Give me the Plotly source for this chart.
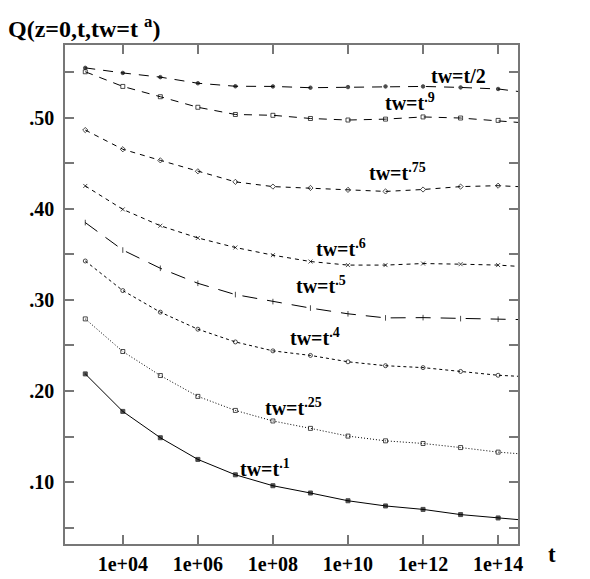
import math
import plotly.graph_objects as go

# ---------------- data ----------------
t = [1e3, 1e4, 1e5, 1e6, 1e7, 1e8, 1e9, 1e10, 1e11, 1e12, 1e13, 1e14]
t_edge = 10 ** 14.53  # curves continue to the right frame

q_half = [0.5549, 0.5493, 0.5447, 0.5380, 0.5347, 0.5345, 0.5331, 0.5338, 0.5345, 0.5345, 0.5334, 0.5317]
q_90 = [0.5506, 0.5345, 0.5232, 0.5116, 0.5037, 0.5028, 0.4993, 0.4976, 0.4986, 0.5010, 0.4998, 0.4972]
q_75 = [0.4866, 0.4655, 0.4533, 0.4413, 0.4297, 0.4245, 0.4230, 0.4209, 0.4192, 0.4213, 0.4245, 0.4255]
q_60 = [0.4252, 0.3995, 0.3815, 0.3681, 0.3576, 0.3492, 0.3422, 0.3383, 0.3383, 0.3400, 0.3393, 0.3383]
q_50 = [0.3850, 0.3548, 0.3348, 0.3183, 0.3059, 0.2982, 0.2911, 0.2848, 0.2803, 0.2806, 0.2795, 0.2789]
q_40 = [0.3428, 0.3103, 0.2866, 0.2679, 0.2539, 0.2441, 0.2391, 0.2321, 0.2278, 0.2257, 0.2215, 0.2173]
q_25 = [0.2792, 0.2434, 0.2170, 0.1941, 0.1787, 0.1671, 0.1590, 0.1505, 0.1453, 0.1424, 0.1379, 0.1329]
q_10 = [0.2188, 0.1776, 0.1487, 0.1249, 0.1080, 0.0960, 0.0880, 0.0795, 0.0738, 0.0700, 0.0643, 0.0606]

q_edge = [0.5290, 0.4950, 0.4245, 0.3369, 0.2785, 0.2162, 0.1312, 0.0588]

series_names = ["tw=t/2", "tw=t^.9", "tw=t^.75", "tw=t^.6", "tw=t^.5", "tw=t^.4", "tw=t^.25", "tw=t^.1"]
series_values = [q_half, q_90, q_75, q_60, q_50, q_40, q_25, q_10]
label_texts = ["tw=t/2", "tw=t<sup>.9</sup>", "tw=t<sup>.75</sup>", "tw=t<sup>.6</sup>",
               "tw=t<sup>.5</sup>", "tw=t<sup>.4</sup>", "tw=t<sup>.25</sup>", "tw=t<sup>.1</sup>"]

x_tick_vals = [1e4, 1e6, 1e8, 1e10, 1e12, 1e14]
x_tick_text = ["1e+04", "1e+06", "1e+08", "1e+10", "1e+12", "1e+14"]
y_tick_vals = [0.05, 0.10, 0.15, 0.20, 0.25, 0.30, 0.35, 0.40, 0.45, 0.50, 0.55]
y_tick_text = ["", ".10", "", ".20", "", ".30", "", ".40", "", ".50", ""]

# ---------------- styles ----------------
dashes = ["10px,8px", "8px,7px", "5px,5px", "4px,4px", "15px,10px", "3px,3px", "1px,2px", "solid"]
symbols = ["circle", "square-open", "diamond-open", "x-thin-open", "line-ns-open", "circle-open", "square-open", "square"]
msizes = [3.5, 4, 4, 4, 4, 4, 4, 4]
# label positions (log10 t, Q)
label_pos = [(12.95, 0.546), (11.66, 0.517), (11.33, 0.440), (9.82, 0.357),
             (9.28, 0.316), (9.12, 0.259), (8.55, 0.183), (7.78, 0.116)]

FONT = "Liberation Serif"
AXIS_COL = "#777777"

fig = go.Figure()
for vals, end, name, dash, sym, ms in zip(series_values, q_edge, series_names, dashes, symbols, msizes):
    fig.add_trace(go.Scatter(
        x=t + [t_edge], y=vals + [end], name=name,
        mode="lines+markers",
        line=dict(color="black", width=1, dash=dash),
        marker=dict(symbol=sym, size=[ms] * len(t) + [0], color="black",
                    line=dict(color="black", width=1)),
        showlegend=False,
    ))

for txt, (lx, ly) in zip(label_texts, label_pos):
    fig.add_annotation(x=lx, y=ly, xref="x", yref="y", text=txt, showarrow=False,
                       font=dict(family=FONT, size=20, color="black", weight="bold"),
                       xanchor="center", yanchor="middle")

fig.add_annotation(x=-0.13, y=1.036, xref="paper", yref="paper", text="Q(z=0,t,tw=t <sup>a</sup>)",
                   showarrow=False, xanchor="left", yanchor="middle",
                   font=dict(family=FONT, size=24, color="black", weight="bold"))
fig.add_annotation(x=1.075, y=-0.022, xref="paper", yref="paper", text="t",
                   showarrow=False, xanchor="center", yanchor="middle",
                   font=dict(family=FONT, size=23, color="black", weight="bold"))

fig.update_xaxes(type="log", range=[2.46, 14.53], tickvals=x_tick_vals, ticktext=x_tick_text,
                 ticks="inside", ticklen=9, tickcolor=AXIS_COL, tickwidth=1.5,
                 showline=True, linecolor=AXIS_COL, linewidth=1.5, mirror="ticks",
                 showgrid=False, zeroline=False, ticklabelstandoff=1,
                 tickfont=dict(family=FONT, size=20, color="black", weight="bold"))
fig.update_yaxes(range=[0.032, 0.580], tickvals=y_tick_vals, ticktext=y_tick_text,
                 ticks="inside", ticklen=9, tickcolor=AXIS_COL, tickwidth=1.5,
                 showline=True, linecolor=AXIS_COL, linewidth=1.5, mirror="ticks",
                 showgrid=False, zeroline=False, ticklabelstandoff=5,
                 tickfont=dict(family=FONT, size=20, color="black", weight="bold"))

fig.update_layout(width=590, height=579, margin=dict(l=57, r=80, t=37, b=22),
                  plot_bgcolor="white", paper_bgcolor="white")

fig.write_html("out.html")
